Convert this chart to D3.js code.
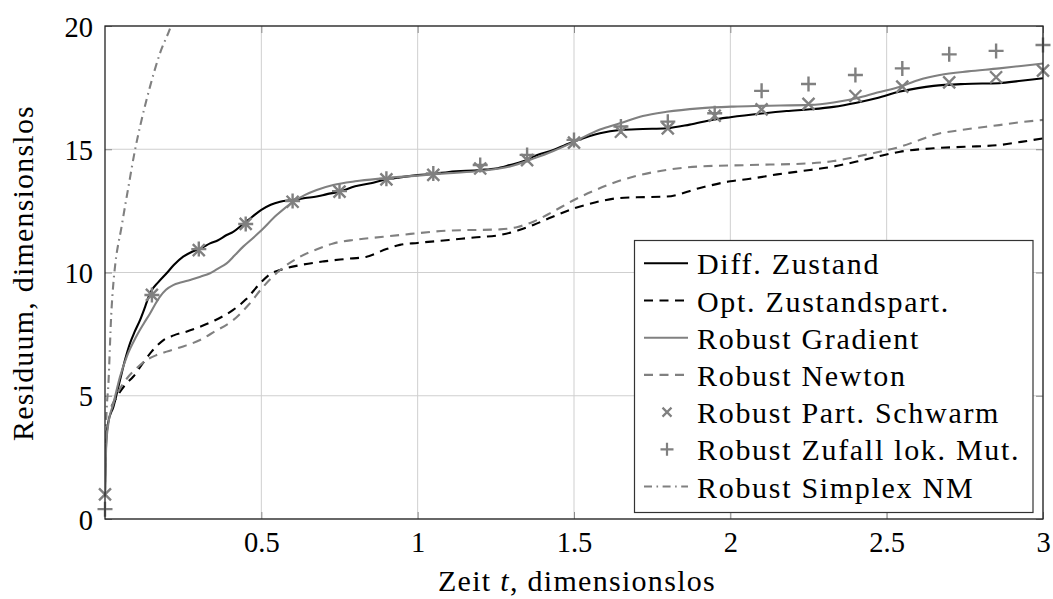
<!DOCTYPE html>
<html>
<head>
<meta charset="utf-8">
<script src="https://cdn.jsdelivr.net/npm/d3@7"></script>
<style>
  html, body { margin: 0; padding: 0; background: #fff; }
  svg { display: block; }
  text { font-family: "Liberation Serif", "Times New Roman", serif; fill: #000; }
</style>
</head>
<body>
<svg id="chart" width="1053" height="599"></svg>
<script>
// ---- data -------------------------------------------------------------
// Diff. Zustand [t, residuum]
const diffZustand = [[0,1.0],[0.004,3.2],[0.01,3.9],[0.027,4.56],[0.048,5.64],[0.065,6.5],[0.08,7.13],[0.095,7.6],[0.112,8.07],[0.128,8.6],[0.144,9.16],[0.17,9.6],[0.197,9.97],[0.22,10.3],[0.25,10.64],[0.28,10.85],[0.31,11.0],[0.336,11.18],[0.36,11.3],[0.389,11.52],[0.41,11.65],[0.442,11.97],[0.47,12.25],[0.5,12.54],[0.53,12.75],[0.56,12.87],[0.6,12.94],[0.64,13.02],[0.677,13.08],[0.71,13.18],[0.75,13.28],[0.8,13.5],[0.85,13.62],[0.89,13.75],[0.943,13.86],[1.0,13.95],[1.05,14.0],[1.1,14.08],[1.2,14.16],[1.25,14.22],[1.295,14.36],[1.335,14.5],[1.37,14.7],[1.434,14.97],[1.5,15.31],[1.583,15.65],[1.647,15.78],[1.72,15.82],[1.796,15.85],[1.87,16.0],[1.945,16.2],[2.0,16.3],[2.1,16.45],[2.18,16.55],[2.255,16.62],[2.33,16.72],[2.404,16.89],[2.47,17.08],[2.543,17.34],[2.6,17.48],[2.65,17.57],[2.75,17.65],[2.86,17.68],[2.93,17.78],[3.0,17.88]];
// Opt. Zustandspart.
const optZustandspart = [[0.021,4.56],[0.04,5.0],[0.065,5.45],[0.09,5.77],[0.12,6.3],[0.149,6.79],[0.168,7.05],[0.187,7.26],[0.22,7.45],[0.26,7.6],[0.304,7.8],[0.35,8.05],[0.41,8.48],[0.45,8.9],[0.496,9.56],[0.53,9.95],[0.56,10.1],[0.624,10.3],[0.7,10.45],[0.77,10.55],[0.837,10.64],[0.9,10.95],[0.943,11.12],[1.0,11.2],[1.1,11.32],[1.18,11.42],[1.263,11.52],[1.32,11.7],[1.37,11.93],[1.43,12.25],[1.5,12.6],[1.57,12.85],[1.636,13.01],[1.7,13.05],[1.796,13.08],[1.9,13.42],[2.0,13.7],[2.063,13.8],[2.15,13.98],[2.255,14.16],[2.33,14.3],[2.404,14.5],[2.47,14.7],[2.543,14.9],[2.65,15.04],[2.75,15.1],[2.86,15.17],[2.93,15.3],[3.0,15.44]];
// Robust Gradient
const robustGradient = [[0,1.0],[0.004,3.0],[0.01,3.8],[0.027,4.69],[0.048,5.77],[0.07,6.6],[0.1,7.4],[0.125,7.95],[0.144,8.34],[0.16,8.7],[0.176,9.02],[0.195,9.3],[0.218,9.49],[0.245,9.6],[0.272,9.7],[0.305,9.83],[0.336,9.97],[0.36,10.15],[0.389,10.37],[0.415,10.7],[0.442,11.05],[0.47,11.36],[0.496,11.66],[0.549,12.33],[0.602,12.87],[0.64,13.15],[0.677,13.35],[0.73,13.55],[0.8,13.7],[0.89,13.82],[0.943,13.88],[1.0,13.93],[1.1,14.03],[1.2,14.12],[1.295,14.3],[1.37,14.62],[1.434,14.93],[1.5,15.3],[1.583,15.8],[1.647,16.05],[1.72,16.35],[1.796,16.52],[1.9,16.66],[2.01,16.73],[2.1,16.76],[2.255,16.8],[2.33,16.9],[2.404,17.07],[2.47,17.3],[2.543,17.54],[2.6,17.8],[2.67,18.01],[2.76,18.16],[2.86,18.28],[2.93,18.38],[3.0,18.48]];
// Robust Newton
const robustNewton = [[0.021,4.56],[0.04,5.1],[0.07,5.7],[0.1,6.1],[0.133,6.45],[0.165,6.65],[0.197,6.79],[0.25,7.0],[0.304,7.26],[0.35,7.6],[0.41,8.07],[0.46,8.7],[0.506,9.42],[0.56,10.1],[0.624,10.64],[0.68,10.95],[0.73,11.18],[0.8,11.33],[0.89,11.45],[0.943,11.52],[1.1,11.7],[1.263,11.75],[1.32,11.85],[1.37,12.06],[1.43,12.45],[1.5,12.94],[1.57,13.35],[1.636,13.68],[1.71,13.95],[1.796,14.16],[1.9,14.3],[2.063,14.36],[2.255,14.43],[2.33,14.52],[2.404,14.7],[2.47,14.88],[2.543,15.1],[2.6,15.35],[2.65,15.58],[2.75,15.8],[2.86,15.98],[2.93,16.1],[3.0,16.19]];
// Robust Simplex NM
const robustSimplex = [[0,1.0],[0.004,4.0],[0.011,5.5],[0.02,8.3],[0.027,9.6],[0.032,10.24],[0.053,11.86],[0.075,13.48],[0.096,14.97],[0.117,16.19],[0.144,17.54],[0.176,18.9],[0.208,19.9],[0.215,20.15]];

// sampled solutions (markers)
const markerTimes = [0, 0.15, 0.3, 0.45, 0.6, 0.75, 0.9, 1.05, 1.2, 1.35, 1.5, 1.65, 1.8, 1.95, 2.1, 2.25, 2.4, 2.55, 2.7, 2.85, 3.0];
const robustSchwarm = [1.0, 9.09, 10.91, 11.97, 12.87, 13.28, 13.78, 13.96, 14.22, 14.56, 15.27, 15.71, 15.85, 16.36, 16.62, 16.84, 17.16, 17.54, 17.71, 17.92, 18.19];
const robustZufall  = [0.4, 9.09, 10.95, 11.97, 12.9, 13.3, 13.8, 14.02, 14.36, 14.77, 15.38, 15.92, 16.12, 16.46, 17.37, 17.65, 18.01, 18.28, 18.85, 18.99, 19.23];

const xTicks = [0.5, 1, 1.5, 2, 2.5, 3];
const xTickLabels = ["0.5", "1", "1.5", "2", "2.5", "3"];
const yTicks = [0, 5, 10, 15, 20];
const yTickLabels = ["0", "5", "10", "15", "20"];

const legendLabels = ["Diff. Zustand", "Opt. Zustandspart.", "Robust Gradient", "Robust Newton",
                      "Robust Part. Schwarm", "Robust Zufall lok. Mut.", "Robust Simplex NM"];

// ---- layout -----------------------------------------------------------
const L = 105, R = 1043, T = 26, B = 519;
const GRAY = "#808080";
const svg = d3.select("#chart");

const x = d3.scaleLinear().domain([0, 3]).range([L, R]);
const y = d3.scaleLinear().domain([0, 20]).range([B, T]);

svg.append("defs").append("clipPath").attr("id", "plotClip")
  .append("rect").attr("x", L).attr("y", T).attr("width", R - L).attr("height", B - T);

// grid
const grid = svg.append("g");
grid.selectAll(".gx").data(xTicks).join("line")
  .attr("x1", d => x(d)).attr("x2", d => x(d)).attr("y1", T).attr("y2", B)
  .attr("stroke", "#cfcfcf").attr("stroke-width", 1);
grid.selectAll(".gy").data(yTicks).join("line")
  .attr("x1", L).attr("x2", R).attr("y1", d => y(d)).attr("y2", d => y(d))
  .attr("stroke", "#cfcfcf").attr("stroke-width", 1);

// axes (inward ticks on all four sides, labels on bottom/left)
const tickLen = 7;
const axB = svg.append("g").attr("transform", `translate(0,${B})`)
  .call(d3.axisBottom(x).tickValues(xTicks).tickFormat((d, i) => xTickLabels[i]).tickSizeInner(-tickLen).tickSizeOuter(0).tickPadding(19));
const axT = svg.append("g").attr("transform", `translate(0,${T})`)
  .call(d3.axisTop(x).tickValues(xTicks).tickFormat("").tickSizeInner(-tickLen).tickSizeOuter(0));
const axL = svg.append("g").attr("transform", `translate(${L},0)`)
  .call(d3.axisLeft(y).tickValues(yTicks).tickFormat((d, i) => yTickLabels[i]).tickSizeInner(-tickLen).tickSizeOuter(0).tickPadding(19));
const axR = svg.append("g").attr("transform", `translate(${R},0)`)
  .call(d3.axisRight(y).tickValues(yTicks).tickFormat("").tickSizeInner(-tickLen).tickSizeOuter(0));
[axB, axT, axL, axR].forEach(a => {
  a.select(".domain").remove();
  a.selectAll(".tick line").attr("stroke", "#8a8a8a").attr("stroke-width", 1);
  a.selectAll("text").attr("font-family", "Liberation Serif, serif").attr("font-size", 28.5).attr("fill", "#000");
});
axB.selectAll(".tick text").attr("dy", null).attr("y", 32.5);
axL.selectAll(".tick text").attr("dy", null).attr("dominant-baseline", "auto").attr("x", -12).attr("y", 10);

// curves
const line = d3.line().x(d => x(d[0])).y(d => y(d[1])).curve(d3.curveMonotoneX);
const curves = svg.append("g").attr("clip-path", "url(#plotClip)");
const series = [
  { data: diffZustand,     color: "#000", dash: null },
  { data: optZustandspart, color: "#000", dash: "9,6.5" },
  { data: robustGradient,  color: GRAY,   dash: null },
  { data: robustNewton,    color: GRAY,   dash: "9,6.5" },
];
series.forEach(s => {
  curves.append("path").datum(s.data).attr("d", line)
    .attr("fill", "none").attr("stroke", s.color).attr("stroke-width", 2.1)
    .attr("stroke-linejoin", "round").attr("stroke-dasharray", s.dash);
});

// markers
function crossPath(cx, cy, r) {
  return `M${cx - r},${cy - r}L${cx + r},${cy + r}M${cx - r},${cy + r}L${cx + r},${cy - r}`;
}
function plusPath(cx, cy, r) {
  return `M${cx - r},${cy}L${cx + r},${cy}M${cx},${cy - r}L${cx},${cy + r}`;
}
const marks = svg.append("g");
marks.selectAll(".pso").data(markerTimes).join("path")
  .attr("d", (t, i) => crossPath(x(t), y(robustSchwarm[i]), 6))
  .attr("stroke", GRAY).attr("stroke-width", 2.4).attr("fill", "none");
marks.selectAll(".rnd").data(markerTimes).join("path")
  .attr("d", (t, i) => plusPath(x(t), y(robustZufall[i]), 7.5))
  .attr("stroke", GRAY).attr("stroke-width", 2.4).attr("fill", "none");

// simplex line drawn last
svg.append("path").datum(robustSimplex).attr("clip-path", "url(#plotClip)").attr("d", line)
  .attr("fill", "none").attr("stroke", GRAY).attr("stroke-width", 2.1)
  .attr("stroke-dasharray", "8,4.5,1.6,4.5");

// frame
svg.append("rect").attr("x", L).attr("y", T).attr("width", R - L).attr("height", B - T)
  .attr("fill", "none").attr("stroke", "#222").attr("stroke-width", 1.3);

// axis titles
const xt = svg.append("text").attr("x", (L + R) / 2 + 3).attr("y", 591)
  .attr("text-anchor", "middle").attr("font-size", 30).attr("letter-spacing", 1.3);
xt.append("tspan").text("Zeit ");
xt.append("tspan").attr("font-style", "italic").text("t");
xt.append("tspan").text(", dimensionslos");

svg.append("text").attr("transform", `translate(33,${273}) rotate(-90)`)
  .attr("text-anchor", "middle").attr("font-size", 30).attr("letter-spacing", 1.2)
  .text("Residuum, dimensionslos");

// legend
const lg = svg.append("g");
lg.append("rect").attr("x", 634.5).attr("y", 240.5).attr("width", 398.5).attr("height", 272)
  .attr("fill", "#fff").attr("stroke", "#333").attr("stroke-width", 1.2);
const rowBase = 274.3, rowStep = 37.2, lx0 = 644, lx1 = 688, lxm = 667;
const legendStyles = [
  { type: "line", color: "#000", dash: null },
  { type: "line", color: "#000", dash: "9,6.5" },
  { type: "line", color: GRAY, dash: null },
  { type: "line", color: GRAY, dash: "9,6.5" },
  { type: "cross" },
  { type: "plus" },
  { type: "line", color: GRAY, dash: "8,4.5,1.6,4.5" },
];
legendLabels.forEach((lab, i) => {
  const by = rowBase + i * rowStep;
  const cy = by - 11;
  const st = legendStyles[i];
  if (st.type === "line") {
    lg.append("line").attr("x1", lx0).attr("x2", lx1).attr("y1", cy).attr("y2", cy)
      .attr("stroke", st.color).attr("stroke-width", 2.1).attr("stroke-dasharray", st.dash);
  } else if (st.type === "cross") {
    lg.append("path").attr("d", crossPath(lxm, cy, 4.5)).attr("stroke", GRAY).attr("stroke-width", 2.2);
  } else {
    lg.append("path").attr("d", plusPath(lxm, cy, 6.5)).attr("stroke", GRAY).attr("stroke-width", 2.2);
  }
  lg.append("text").attr("x", 697).attr("y", by).attr("font-size", 30).attr("letter-spacing", 1.7).text(lab);
});
</script>
</body>
</html>
